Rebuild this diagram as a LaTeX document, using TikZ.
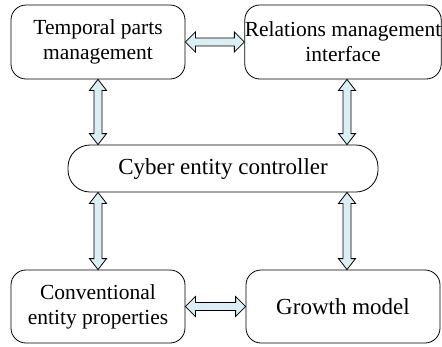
\documentclass[tikz,border=0pt]{standalone}
\usepackage{fontspec}
\setmainfont{Liberation Serif}
\usetikzlibrary{calc}
\definecolor{arrowfill}{RGB}{219,238,244}
\tikzset{
  box/.style={draw=black, line width=0.8pt, rounded corners=15pt, align=center, inner sep=0pt,
    font=\fontsize{21.5}{25}\selectfont},
  dblarrow/.style={draw=black, line width=0.8pt, fill=arrowfill, line join=miter}
}
\newcommand\varr[2]{%
  \path let \p1=#1, \p2=#2 in [dblarrow]
    (\x1,\y1) -- ({\x1+8.5pt},{\y1-11pt}) -- ({\x1+4pt},{\y1-11pt}) -- ({\x1+4pt},{\y2+11pt})
    -- ({\x1+8.5pt},{\y2+11pt}) -- (\x1,\y2) -- ({\x1-8.5pt},{\y2+11pt}) -- ({\x1-4pt},{\y2+11pt})
    -- ({\x1-4pt},{\y1-11pt}) -- ({\x1-8.5pt},{\y1-11pt}) -- cycle;}
\newcommand\harr[2]{%
  \path let \p1=#1, \p2=#2 in [dblarrow]
    (\x1,\y1) -- ({\x1+10pt},{\y1+10pt}) -- ({\x1+10pt},{\y1+4pt}) -- ({\x2-10pt},{\y1+4pt})
    -- ({\x2-10pt},{\y1+10pt}) -- (\x2,\y1) -- ({\x2-10pt},{\y1-10pt}) -- ({\x2-10pt},{\y1-4pt})
    -- ({\x1+10pt},{\y1-4pt}) -- ({\x1+10pt},{\y1-10pt}) -- cycle;}
\begin{document}
\begin{tikzpicture}[x=1pt,y=-1pt]
\useasboundingbox (0,0) rectangle (442,346);
\node[box, minimum width=174pt, minimum height=74pt] (tl) at (98,42) {Temporal parts\\management};
\node[box, minimum width=194pt, minimum height=74pt] (tr) at (343,42) {Relations management\\interface};
\node[box, minimum width=310pt, minimum height=47pt, rounded corners=22pt,
      font=\fontsize{23}{27}\selectfont] (mid) at (223,168.5) {Cyber entity controller};
\node[box, minimum width=174pt, minimum height=73pt] (bl) at (98,306.5) {Conventional\\entity properties};
\node[box, minimum width=194pt, minimum height=73pt,
      font=\fontsize{23}{27}\selectfont] (br) at (343,306.5) {Growth model};
\harr{(tl.east)}{(tr.west)}
\harr{(bl.east)}{(br.west)}
\varr{(tl.south)}{(tl.south |- mid.north)}
\varr{($(tr.south)+(4pt,0)$)}{($(tr.south |- mid.north)+(4pt,0)$)}
\varr{(mid.south -| bl.north)}{(bl.north)}
\varr{($(mid.south -| br.north)+(4pt,0)$)}{($(br.north)+(4pt,0)$)}
\end{tikzpicture}
\end{document}
